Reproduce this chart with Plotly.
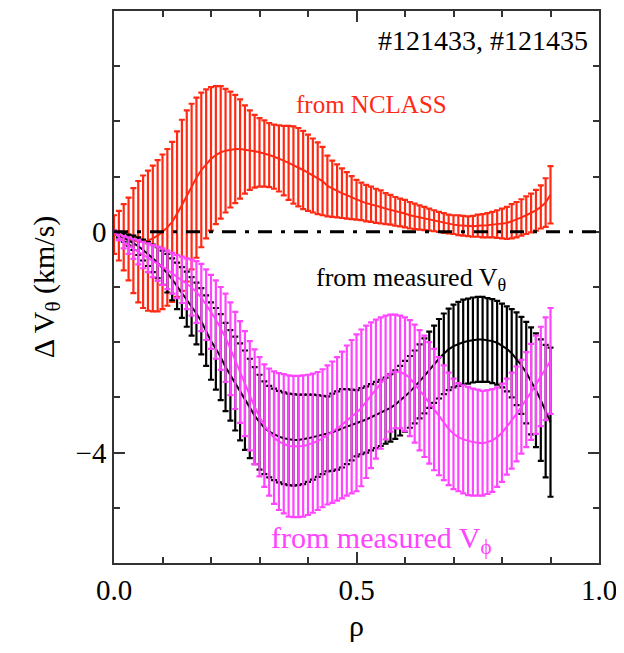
import numpy as np
import plotly.graph_objects as go

# radial grid (rho) of the profiles
rho = np.round(np.arange(0, 0.905, 0.01), 2)

# from NCLASS (red): centre and half error
nclass_v = [-0.05, -0.07, -0.1, -0.13, -0.16, -0.18, -0.18, -0.16, -0.12, -0.07,
            0.0, 0.08, 0.18, 0.32, 0.48, 0.65, 0.82, 0.98, 1.12, 1.23,
            1.32, 1.39, 1.44, 1.47, 1.49, 1.5, 1.5, 1.49, 1.48, 1.46,
            1.44, 1.42, 1.39, 1.36, 1.33, 1.29, 1.25, 1.21, 1.17, 1.12,
            1.07, 1.02, 0.97, 0.92, 0.83, 0.78, 0.74, 0.7, 0.66, 0.62,
            0.58, 0.55, 0.52, 0.5, 0.47, 0.45, 0.42, 0.4, 0.37, 0.35,
            0.33, 0.3, 0.28, 0.26, 0.24, 0.22, 0.2, 0.18, 0.16, 0.14,
            0.13, 0.12, 0.11, 0.1, 0.1, 0.11, 0.11, 0.12, 0.13, 0.14,
            0.15, 0.16, 0.19, 0.22, 0.26, 0.3, 0.34, 0.39, 0.45, 0.53, 0.67]
nclass_e = [0.35, 0.45, 0.6, 0.75, 0.95, 1.1, 1.2, 1.27, 1.32, 1.37,
            1.4, 1.42, 1.45, 1.5, 1.55, 1.55, 1.5, 1.45, 1.4, 1.35,
            1.3, 1.25, 1.2, 1.12, 1.05, 0.98, 0.9, 0.8, 0.72, 0.66,
            0.62, 0.6, 0.58, 0.58, 0.6, 0.63, 0.67, 0.7, 0.71, 0.71,
            0.69, 0.67, 0.65, 0.62, 0.55, 0.51, 0.48, 0.45, 0.42, 0.39,
            0.36, 0.34, 0.33, 0.32, 0.31, 0.3, 0.28, 0.27, 0.26, 0.25,
            0.25, 0.24, 0.23, 0.22, 0.21, 0.2, 0.19, 0.18, 0.18, 0.17,
            0.17, 0.18, 0.18, 0.18, 0.19, 0.2, 0.21, 0.22, 0.23, 0.25,
            0.27, 0.29, 0.31, 0.32, 0.33, 0.34, 0.35, 0.37, 0.39, 0.44, 0.52]

# from measured V_theta (black)
vtheta_v = [0.0, -0.05, -0.1, -0.15, -0.2, -0.26, -0.33, -0.4, -0.48, -0.56,
            -0.65, -0.75, -0.86, -0.98, -1.1, -1.22, -1.35, -1.48, -1.62, -1.79,
            -1.98, -2.12, -2.27, -2.45, -2.6, -2.75, -2.9, -3.05, -3.2, -3.33,
            -3.45, -3.55, -3.62, -3.67, -3.71, -3.74, -3.76, -3.77, -3.77, -3.76,
            -3.74, -3.72, -3.7, -3.68, -3.66, -3.63, -3.6, -3.56, -3.53, -3.5,
            -3.47, -3.43, -3.4, -3.36, -3.32, -3.28, -3.24, -3.19, -3.13, -3.06,
            -2.98, -2.9, -2.81, -2.71, -2.61, -2.5, -2.4, -2.3, -2.21, -2.13,
            -2.07, -2.03, -2.0, -1.98, -1.96, -1.95, -1.95, -1.96, -1.98, -2.01,
            -2.06, -2.12, -2.2, -2.3, -2.42, -2.55, -2.7, -2.87, -3.05, -3.25, -3.45]
vtheta_e = [0.02, 0.05, 0.08, 0.1, 0.13, 0.16, 0.19, 0.22, 0.25, 0.28,
            0.31, 0.35, 0.38, 0.42, 0.46, 0.5, 0.53, 0.56, 0.6, 0.64,
            0.7, 0.74, 0.78, 0.8, 0.82, 0.85, 0.88, 0.9, 0.9, 0.88,
            0.86, 0.84, 0.83, 0.83, 0.83, 0.83, 0.83, 0.83, 0.82, 0.81,
            0.79, 0.77, 0.74, 0.71, 0.68, 0.7, 0.71, 0.71, 0.68, 0.64,
            0.6, 0.6, 0.6, 0.6, 0.6, 0.6, 0.6, 0.61, 0.62, 0.63,
            0.64, 0.65, 0.66, 0.67, 0.68, 0.69, 0.7, 0.72, 0.73, 0.74,
            0.75, 0.76, 0.77, 0.77, 0.77, 0.77, 0.77, 0.76, 0.76, 0.76,
            0.76, 0.77, 0.8, 0.84, 0.88, 0.92, 0.97, 1.03, 1.1, 1.2, 1.35]

# from measured V_phi (magenta)
vphi_v = [0.0, -0.1, -0.19, -0.25, -0.31, -0.37, -0.42, -0.47, -0.53, -0.58,
          -0.63, -0.69, -0.75, -0.81, -0.87, -0.94, -1.01, -1.09, -1.19, -1.32,
          -1.45, -1.59, -1.75, -1.92, -2.12, -2.33, -2.54, -2.75, -2.97, -3.17,
          -3.35, -3.51, -3.63, -3.73, -3.8, -3.84, -3.88, -3.89, -3.89, -3.88,
          -3.86, -3.83, -3.79, -3.74, -3.68, -3.63, -3.57, -3.5, -3.42, -3.35,
          -3.28, -3.19, -3.08, -2.96, -2.85, -2.74, -2.64, -2.56, -2.53, -2.54,
          -2.58, -2.65, -2.75, -2.87, -2.98, -3.1, -3.22, -3.34, -3.46, -3.57,
          -3.66, -3.72, -3.76, -3.79, -3.81, -3.82, -3.83, -3.81, -3.78, -3.72,
          -3.64, -3.53, -3.42, -3.3, -3.17, -3.04, -2.9, -2.77, -2.62, -2.48, -2.34]
vphi_e = [0.02, 0.05, 0.11, 0.15, 0.18, 0.22, 0.24, 0.26, 0.29, 0.31,
          0.33, 0.35, 0.37, 0.39, 0.42, 0.46, 0.51, 0.56, 0.61, 0.64,
          0.67, 0.71, 0.75, 0.8, 0.84, 0.88, 0.92, 0.95, 0.99, 1.04,
          1.08, 1.11, 1.15, 1.2, 1.24, 1.26, 1.28, 1.28, 1.28, 1.28,
          1.27, 1.26, 1.25, 1.25, 1.26, 1.28, 1.3, 1.33, 1.36, 1.39,
          1.42, 1.42, 1.38, 1.32, 1.26, 1.19, 1.12, 1.06, 1.03, 1.02,
          1.03, 1.05, 1.07, 1.09, 1.1, 1.1, 1.1, 1.07, 1.04, 1.02,
          1.0, 0.98, 0.98, 0.98, 0.97, 0.96, 0.95, 0.94, 0.93, 0.9,
          0.89, 0.87, 0.87, 0.86, 0.85, 0.86, 0.87, 0.89, 0.9, 0.93, 0.96]

RED = "#ff2a14"
MAG = "#ff44ff"
BLK = "#000000"
FONT = "Times New Roman, Liberation Serif, DejaVu Serif, serif"

fig = go.Figure()


def add_series(y, e, color):
    fig.add_trace(go.Scatter(
        x=rho, y=y, mode="lines",
        line=dict(color=color, width=2),
        error_y=dict(type="data", array=e, visible=True,
                     color=color, thickness=2.2, width=3),
        showlegend=False, hoverinfo="skip"))


add_series(nclass_v, nclass_e, RED)
add_series(vtheta_v, vtheta_e, BLK)
add_series(vphi_v, vphi_e, MAG)

fig.add_shape(type="line", xref="paper", yref="y", x0=0, x1=1, y0=0, y1=0,
              line=dict(color="black", width=3, dash="14px,9px,4px,9px"),
              layer="above")


def label(x, y, text, color, size, xanchor="center"):
    fig.add_annotation(x=x, y=y, text=text, showarrow=False, xref="x", yref="y",
                       xanchor=xanchor,
                       font=dict(family=FONT, size=size, color=color))


label(0.982, 3.47, "#121433, #121435", "black", 28, xanchor="right")
label(0.53, 2.3, "from NCLASS", RED, 25)
label(0.612, -0.86, "from measured V<sub>θ</sub>", "black", 26)
label(0.55, -5.58, "from measured V<sub>ϕ</sub>", MAG, 30)

axis_common = dict(showgrid=False, zeroline=False, showline=True,
                   linecolor="#333333", linewidth=1.5, mirror="allticks",
                   ticks="inside", tickcolor="#333333", tickwidth=1.5,
                   ticklen=11, tickfont=dict(family=FONT, size=29, color="black"))

fig.update_xaxes(range=[0, 1], dtick=0.5, tick0=0, tickformat=".1f",
                 minor=dict(dtick=0.1, ticklen=6, ticks="inside",
                            tickcolor="#333333", tickwidth=1.5),
                 title=dict(text="ρ", font=dict(family=FONT, size=30, color="black"),
                            standoff=10),
                 **axis_common)
fig.update_yaxes(range=[-6, 4], dtick=4, tick0=0,
                 minor=dict(dtick=1, ticklen=6, ticks="inside",
                            tickcolor="#333333", tickwidth=1.5),
                 title=dict(text="Δ V<sub>θ</sub> (km/s)",
                            font=dict(family=FONT, size=30, color="black"),
                            standoff=12),
                 **axis_common)

fig.update_layout(width=616, height=645,
                  margin=dict(l=106, r=25, t=1, b=90),
                  plot_bgcolor="white", paper_bgcolor="white",
                  font=dict(family=FONT, color="black"))

fig.write_html("out.html")
